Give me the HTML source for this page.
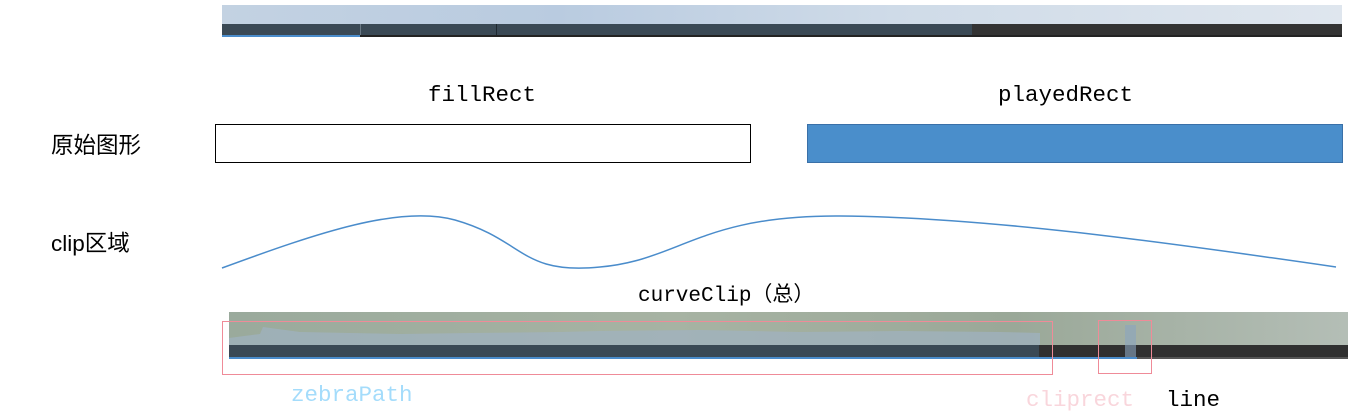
<!DOCTYPE html>
<html><head><meta charset="utf-8"><style>
html,body{margin:0;padding:0;background:#fff;width:1362px;height:416px;overflow:hidden}
</style></head><body>
<svg width="1362" height="416" xmlns="http://www.w3.org/2000/svg">
<defs>
<linearGradient id="tg" x1="0" y1="0" x2="1" y2="0">
<stop offset="0" stop-color="#c3d2e2"/><stop offset="0.3" stop-color="#b9cbe0"/><stop offset="0.6" stop-color="#cfdbe8"/><stop offset="1" stop-color="#dfe6ee"/>
</linearGradient>
<linearGradient id="bg" x1="0" y1="0" x2="1" y2="0">
<stop offset="0" stop-color="#9aaa9c"/><stop offset="0.4" stop-color="#a7b3a3"/><stop offset="0.7" stop-color="#9aa898"/><stop offset="1" stop-color="#b4beb6"/>
</linearGradient>
</defs>
<rect x="222" y="5" width="1120" height="20" fill="url(#tg)"/>
<rect x="222" y="24" width="750" height="11" fill="#3a4955"/>
<rect x="360" y="24" width="1" height="11" fill="#6a7985"/>
<rect x="496" y="24" width="1" height="11" fill="#1e2830"/>
<rect x="972" y="24" width="370" height="11" fill="#333333"/>
<rect x="222" y="35" width="1120" height="2" fill="#222"/>
<rect x="222" y="35" width="138" height="2" fill="#4a8ccb"/>
<g font-family="Liberation Mono, monospace" font-size="22.5" fill="#000">
<text x="428" y="101">fillRect</text>
<text x="998" y="101">playedRect</text>
</g>
<g font-family="Liberation Sans, 'Noto Sans CJK SC', sans-serif" font-size="22.5" fill="#000">
<text x="51" y="153">原始图形</text>
<text x="51" y="251">clip区域</text>
</g>
<rect x="215.5" y="124.5" width="535" height="38" fill="#fff" stroke="#000" stroke-width="1"/>
<rect x="807.5" y="124.5" width="535" height="38" fill="#4a8ecb" stroke="#3a70a8" stroke-width="1"/>
<path d="M222,268 C320,232 400,205 455,220 C525,240 520,275 600,267 C680,260 700,215 840,216 C980,217 1150,240 1336,267" fill="none" stroke="#4a8ccb" stroke-width="1.5"/>
<text x="638" y="301" font-family="Liberation Mono, 'Noto Sans CJK SC', monospace" font-size="21" fill="#000">curveClip（总）</text>
<rect x="229" y="312" width="1119" height="34" fill="url(#bg)"/>
<path d="M229,345 L229,338 L260,334 L263,327 L300,332 L400,334 L470,333 L560,332 L600,331 L700,330 L800,332 L900,331 L1000,332 L1040,333 L1040,345 Z" fill="#9fb2c2" opacity="0.7"/>
<rect x="229" y="345" width="810" height="12" fill="#3a4955"/>
<rect x="1039" y="345" width="309" height="12" fill="#303030"/>
<rect x="229" y="357" width="1119" height="2" fill="#555"/>
<rect x="229" y="357" width="908" height="2" fill="#4a8ccb"/>
<rect x="1125" y="325" width="11" height="32" fill="#8aa5bf" opacity="0.6"/>
<rect x="222.5" y="321.5" width="830" height="53" fill="none" stroke="#ef8b98" stroke-width="1"/>
<rect x="1098.5" y="320.5" width="53" height="53" fill="none" stroke="#ef8b98" stroke-width="1"/>
<g font-family="Liberation Mono, monospace" font-size="22.5">
<text x="291" y="401" fill="#a4dcfb">zebraPath</text>
<text x="1026" y="406" fill="#f9d6dc">cliprect</text>
<text x="1166" y="406" fill="#000">line</text>
</g>
</svg>
</body></html>
